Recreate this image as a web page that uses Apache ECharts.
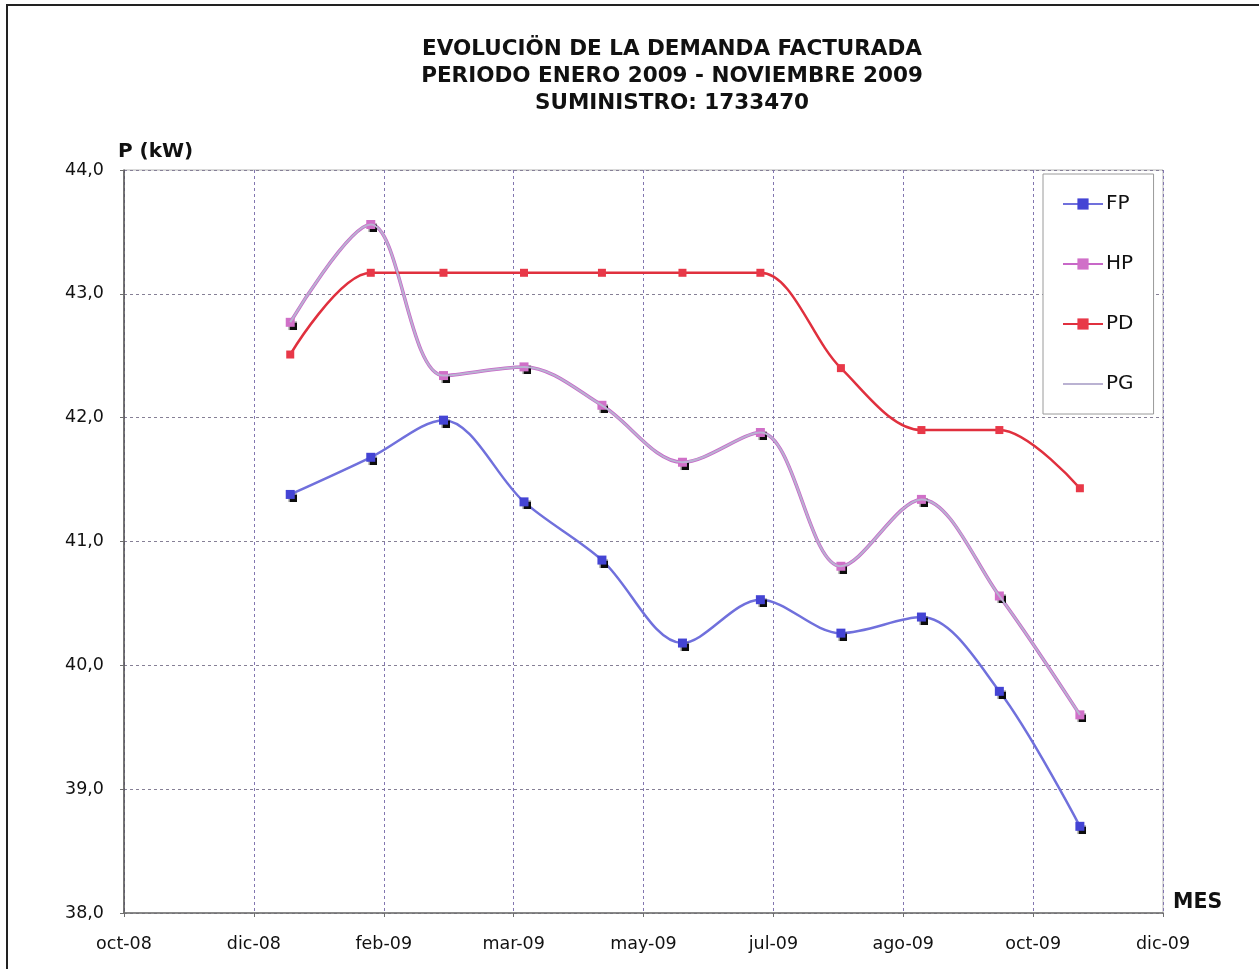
<!DOCTYPE html>
<html>
<head>
<meta charset="utf-8">
<title>Evolución de la demanda facturada</title>
<script src="https://cdn.jsdelivr.net/npm/echarts@6/dist/echarts.min.js"></script>
<style>
  html, body { margin: 0; padding: 0; background: #ffffff; }
  #chart { width: 1259px; height: 969px; }
</style>
</head>
<body>
<div id="chart"></div>
<script>
// Billing months (first day of each month)
const months = ['2009-01-01', '2009-02-01', '2009-03-01', '2009-04-01', '2009-05-01', '2009-06-01',
                '2009-07-01', '2009-08-01', '2009-09-01', '2009-10-01', '2009-11-01'];

// Demand in kW per tariff period
const fpValues = [41.38, 41.68, 41.98, 41.32, 40.85, 40.18, 40.53, 40.26, 40.39, 39.79, 38.70];
const hpValues = [42.77, 43.56, 42.34, 42.41, 42.10, 41.64, 41.88, 40.80, 41.34, 40.56, 39.60];
const pdValues = [42.51, 43.17, 43.17, 43.17, 43.17, 43.17, 43.17, 42.40, 41.90, 41.90, 41.43];
const pgValues = [42.77, 43.56, 42.34, 42.41, 42.10, 41.64, 41.88, 40.80, 41.34, 40.56, 39.60];

// Axis ranges (x in spreadsheet day serials)
const xMin = 39750, xMax = 40150, xStep = 50;
const yMin = 38, yMax = 44, yStep = 1;

const monthNames = ['ene', 'feb', 'mar', 'abr', 'may', 'jun', 'jul', 'ago', 'sep', 'oct', 'nov', 'dic'];
const EPOCH = Date.UTC(1899, 11, 30);
const DAY = 86400000;

function toSerial(iso) {
  const [y, m, d] = iso.split('-').map(Number);
  return Math.round((Date.UTC(y, m - 1, d) - EPOCH) / DAY);
}
function serialLabel(v) {
  const dt = new Date(EPOCH + v * DAY);
  const yy = String(dt.getUTCFullYear() % 100).padStart(2, '0');
  return monthNames[dt.getUTCMonth()] + '-' + yy;
}
function pairs(vals) {
  return months.map((m, i) => [toSerial(m), vals[i]]);
}

const FONT = '"DejaVu Sans", "Liberation Sans", Arial, sans-serif';
const SMOOTH = 0.33;
const chart = echarts.init(document.getElementById('chart'), null, { renderer: 'canvas' });

const markerShadow = {
  shadowColor: 'rgba(0,0,0,0.95)',
  shadowBlur: 1,
  shadowOffsetX: 2,
  shadowOffsetY: 3
};

chart.setOption({
  animation: false,
  backgroundColor: '#ffffff',
  title: {
    text: 'EVOLUCIÖN DE LA DEMANDA FACTURADA\nPERIODO ENERO 2009 - NOVIEMBRE 2009\nSUMINISTRO: 1733470',
    left: 667,
    top: 31,
    textAlign: 'center',
    textStyle: { fontFamily: FONT, fontSize: 21.5, fontWeight: 'bold', color: '#111', lineHeight: 27 }
  },
  graphic: [{
    type: 'rect',
    shape: { x: 7, y: 5, width: 1270, height: 980 },
    style: { fill: 'none', stroke: '#222', lineWidth: 2 },
    silent: true
  }],
  legend: {
    orient: 'vertical',
    left: 1043,
    top: 174,
    padding: [19, 20, 19, 19],
    itemGap: 38,
    itemWidth: 40,
    itemHeight: 14,
    borderColor: '#9a9a9a',
    borderWidth: 1,
    backgroundColor: '#ffffff',
    textStyle: { fontFamily: FONT, fontSize: 20, color: '#111', lineHeight: 22, padding: [0, 0, 0, -2] },
    data: ['FP', 'HP', 'PD', 'PG']
  },
  grid: {
    left: 124, right: 96, top: 170, bottom: 56,
    show: true, borderColor: '#b4b4b4', borderWidth: 1
  },
  xAxis: {
    type: 'value',
    min: xMin, max: xMax, interval: xStep,
    name: 'MES',
    nameLocation: 'end',
    nameGap: 10,
    nameTextStyle: { fontFamily: FONT, fontSize: 20.5, fontWeight: 'bold', color: '#111', verticalAlign: 'bottom' },
    axisLine: { show: true, onZero: false, lineStyle: { color: '#6e6e6e', width: 1.5 } },
    axisTick: { show: true, length: 4, lineStyle: { color: '#6e6e6e' } },
    axisLabel: { fontFamily: FONT, fontSize: 17.5, color: '#111', margin: 22, formatter: serialLabel },
    splitLine: { show: true, lineStyle: { color: '#8276b0', width: 1, type: [3, 3] } }
  },
  yAxis: {
    type: 'value',
    min: yMin, max: yMax, interval: yStep,
    name: 'P (kW)',
    nameLocation: 'end',
    nameGap: 8,
    nameTextStyle: { fontFamily: FONT, fontSize: 20, fontWeight: 'bold', color: '#111', align: 'left', padding: [0, 0, 0, -6] },
    axisLine: { show: true, lineStyle: { color: '#555', width: 1.5 } },
    axisTick: { show: true, length: 4, lineStyle: { color: '#6e6e6e' } },
    axisLabel: { fontFamily: FONT, fontSize: 17.5, color: '#111', margin: 20, formatter: v => v.toFixed(1).replace('.', ',') },
    splitLine: { show: true, lineStyle: { color: '#868096', width: 1, type: [3, 3] } }
  },
  series: [
    {
      name: 'FP', type: 'line', data: pairs(fpValues),
      smooth: SMOOTH, symbol: 'rect', symbolSize: 9,
      lineStyle: { color: '#7070dc', width: 2.5 },
      itemStyle: Object.assign({ color: '#4444d4' }, markerShadow),
      z: 3
    },
    {
      name: 'HP', type: 'line', data: pairs(hpValues),
      smooth: SMOOTH, symbol: 'rect', symbolSize: 9,
      lineStyle: { color: '#c868c8', width: 3.5 },
      itemStyle: Object.assign({ color: '#d070c8' }, markerShadow),
      z: 3
    },
    {
      name: 'PD', type: 'line', data: pairs(pdValues),
      smooth: SMOOTH, symbol: 'rect', symbolSize: 8,
      lineStyle: { color: '#e0303e', width: 2.5 },
      itemStyle: { color: '#e83848' },
      z: 3
    },
    {
      name: 'PG', type: 'line', data: pairs(pgValues),
      smooth: SMOOTH, showSymbol: false, symbol: 'circle',
      lineStyle: { color: '#bab2d2', width: 2 },
      itemStyle: { color: 'rgba(0,0,0,0)', opacity: 0 },
      z: 4
    }
  ]
});
</script>
</body>
</html>
